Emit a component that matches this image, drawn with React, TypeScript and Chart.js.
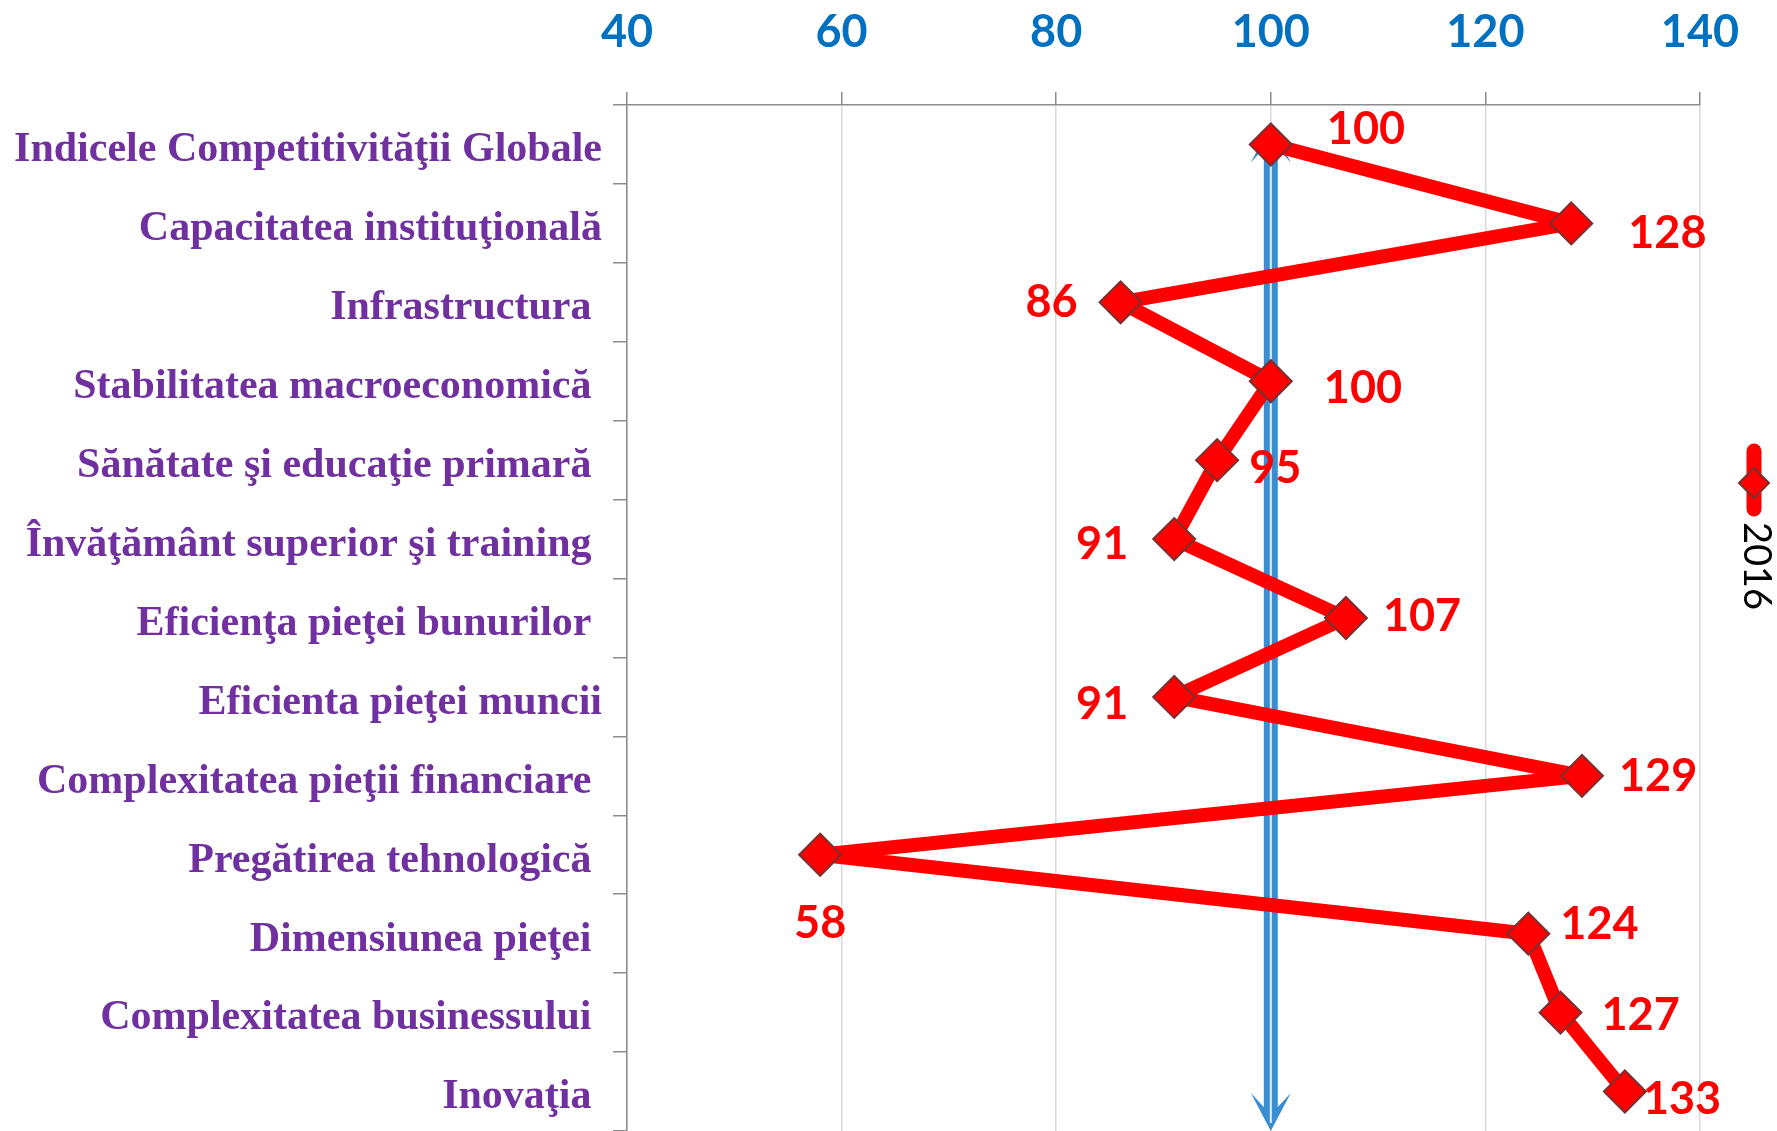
import React, { useEffect, useRef } from 'react';
import { Chart, registerables } from 'chart.js';

Chart.register(...registerables);

const categories = [
  'Indicele Competitivităţii Globale',
  'Capacitatea instituţională',
  'Infrastructura ',
  'Stabilitatea macroeconomică ',
  'Sănătate şi educaţie primară ',
  'Învăţământ superior şi training ',
  'Eficienţa pieţei bunurilor ',
  'Eficienta pieţei muncii',
  'Complexitatea pieţii financiare ',
  'Pregătirea tehnologică ',
  'Dimensiunea pieţei ',
  'Complexitatea businessului ',
  'Inovaţia ',
];

const values2016 = [100, 128, 86, 100, 95, 91, 107, 91, 129, 58, 124, 127, 133];
const seriesName = '2016';
const xTicks = [40, 60, 80, 100, 120, 140];
const referenceValue = 100;

// label placement styling (side, dx, dy) per point
const labelStyle: Array<[string, number, number]> = [
  ['right', 56, -15],
  ['right', 57, 10],
  ['left', -43, 0],
  ['right', 53, 7],
  ['right', 32, 8],
  ['left', -46, 5],
  ['right', 37, -2],
  ['left', -46, 8],
  ['right', 37, 1],
  ['below', 0, 69],
  ['right', 32, -9],
  ['right', 41, 3],
  ['right', 18, 8],
];

const RED = '#ff0000';
const BLUE_TICK = '#0070c0';
const PURPLE = '#7030a0';
const ARROW_BLUE = '#3a8dd0';

const arrowPlugin = {
  id: 'refArrow',
  beforeDatasetsDraw(chart: any) {
    const ctx = chart.ctx;
    const x = chart.scales.x.getPixelForValue(referenceValue);
    const firstPt = chart.getDatasetMeta(0).data[0];
    const topTip = firstPt.y - 20;
    const bottomTip = chart.chartArea.bottom;
    ctx.save();
    ctx.fillStyle = ARROW_BLUE;
    ctx.fillRect(x - 7, topTip + 20, 14, bottomTip - topTip - 40);
    const head = (tipY: number, dir: number) => {
      ctx.beginPath();
      ctx.moveTo(x, tipY);
      ctx.lineTo(x - 20, tipY - dir * 38);
      ctx.lineTo(x - 7, tipY - dir * 24);
      ctx.lineTo(x + 7, tipY - dir * 24);
      ctx.lineTo(x + 20, tipY - dir * 38);
      ctx.closePath();
      ctx.fill();
    };
    head(bottomTip, 1);
    head(topTip, -1);
    ctx.fillStyle = 'rgba(255,255,255,0.85)';
    ctx.fillRect(x - 1, topTip + 8, 2, bottomTip - topTip - 16);
    ctx.restore();
  },
};

const labelPlugin = {
  id: 'valueLabels',
  afterDatasetsDraw(chart: any) {
    const ctx = chart.ctx;
    const meta = chart.getDatasetMeta(0);
    ctx.save();
    ctx.font = 'bold 45px Lato';
    ctx.fillStyle = RED;
    ctx.textBaseline = 'middle';
    meta.data.forEach((pt: any, i: number) => {
      const [side, dx, dy] = labelStyle[i];
      const txt = String(values2016[i]);
      if (side === 'right') ctx.textAlign = 'left';
      else if (side === 'left') ctx.textAlign = 'right';
      else ctx.textAlign = 'center';
      ctx.fillText(txt, pt.x + dx, pt.y + dy);
    });
    ctx.restore();
  },
};

const legendPlugin = {
  id: 'sideLegend',
  afterDraw(chart: any) {
    const ctx = chart.ctx;
    const lx = chart.chartArea.right + 54;
    const y0 = 451;
    const y1 = 509;
    const cy = 483;
    ctx.save();
    ctx.strokeStyle = RED;
    ctx.lineWidth = 15;
    ctx.lineCap = 'round';
    ctx.beginPath();
    ctx.moveTo(lx, y0);
    ctx.lineTo(lx, y1);
    ctx.stroke();
    ctx.fillStyle = RED;
    ctx.strokeStyle = '#7a3030';
    ctx.lineWidth = 2;
    ctx.beginPath();
    ctx.moveTo(lx, cy - 15);
    ctx.lineTo(lx + 15, cy);
    ctx.lineTo(lx, cy + 15);
    ctx.lineTo(lx - 15, cy);
    ctx.closePath();
    ctx.fill();
    ctx.stroke();
    ctx.translate(lx + 2, 522);
    ctx.rotate(Math.PI / 2);
    ctx.font = '38px Lato';
    ctx.fillStyle = '#000000';
    ctx.textAlign = 'left';
    ctx.textBaseline = 'middle';
    ctx.fillText(seriesName, 0, 0);
    ctx.restore();
  },
};

export default function App() {
  const canvasRef = useRef<HTMLCanvasElement | null>(null);

  useEffect(() => {
    if (!canvasRef.current) return;
    const chart = new Chart(canvasRef.current, {
      type: 'line',
      data: {
        labels: categories,
        datasets: [
          {
            label: seriesName,
            data: values2016,
            borderColor: RED,
            backgroundColor: RED,
            borderWidth: 14,
            borderJoinStyle: 'round',
            tension: 0,
            fill: false,
            pointStyle: 'rectRot',
            pointRadius: 21,
            pointHoverRadius: 21,
            pointBackgroundColor: RED,
            pointBorderColor: '#7a3030',
            pointBorderWidth: 2,
            clip: false,
          },
        ],
      },
      options: {
        indexAxis: 'y',
        responsive: false,
        animation: false,
        layout: { autoPadding: false, padding: { left: 0, right: 77, top: 0, bottom: 0 } },
        plugins: {
          legend: { display: false },
          tooltip: { enabled: false },
        },
        scales: {
          x: {
            type: 'linear',
            position: 'top',
            min: 40,
            max: 140,
            afterBuildTicks: (scale: any) => {
              scale.ticks = xTicks.map((v) => ({ value: v }));
            },
            afterFit: (scale: any) => {
              scale.height = 105;
              scale.paddingLeft = 0;
              scale.paddingRight = 0;
            },
            ticks: {
              color: BLUE_TICK,
              font: { family: 'Lato', size: 45, weight: 'bold' },
              padding: 33,
              maxRotation: 0,
            },
            grid: {
              color: '#d9d9d9',
              lineWidth: 1.5,
              tickColor: '#8c8c8c',
              tickLength: 13,
            },
            border: { color: '#8c8c8c', width: 1.5 },
          },
          y: {
            type: 'category',
            offset: true,
            afterFit: (scale: any) => {
              scale.width = 627;
              scale.paddingTop = 0;
              scale.paddingBottom = 0;
            },
            ticks: {
              color: PURPLE,
              font: { family: 'Liberation Serif', size: 42, weight: 'bold' },
              padding: 11,
              labelOffset: 6,
              autoSkip: false,
            },
            grid: {
              offset: true,
              drawOnChartArea: false,
              tickColor: '#8c8c8c',
              tickLength: 14,
              lineWidth: 1.5,
            },
            border: { color: '#8c8c8c', width: 1.5 },
          },
        },
      },
      plugins: [arrowPlugin, labelPlugin, legendPlugin],
    } as any);
    return () => chart.destroy();
  }, []);

  return (
    <div style={{ position: 'absolute', left: 0, top: 0, width: 1777, height: 1131, background: '#ffffff' }}>
      <canvas ref={canvasRef} width={1777} height={1131} style={{ display: 'block' }} />
    </div>
  );
}
